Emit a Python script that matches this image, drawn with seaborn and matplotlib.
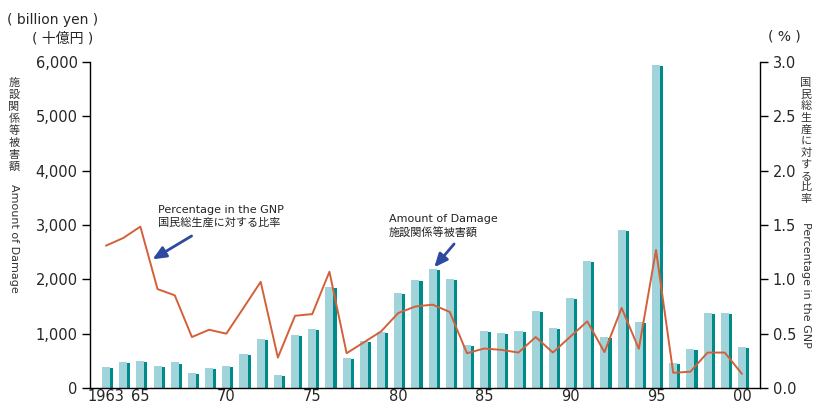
import numpy as np
import pandas as pd
import matplotlib
matplotlib.use("Agg")
import matplotlib.pyplot as plt
from matplotlib.patches import Rectangle
import seaborn as sns

# data
years = list(range(1963, 2001))
damage = [390, 480, 500, 400, 470, 276, 368, 399, 626, 902,
          233, 975, 1080, 1865, 546, 865, 1025, 1748, 1988, 2196,
          2006, 791, 1049, 1012, 1043, 1417, 1098, 1662, 2337, 945,
          2902, 1221, 5945, 466, 718, 1375, 1375, 749]
gnp_pct = [1.31, 1.38, 1.485, 0.91, 0.853, 0.469, 0.536, 0.50, 0.737, 0.977,
           0.28, 0.665, 0.68, 1.07, 0.32, 0.42, 0.52, 0.69, 0.75, 0.767,
           0.70, 0.32, 0.363, 0.351, 0.326, 0.469, 0.326, 0.47, 0.613, 0.33,
           0.737, 0.36, 1.27, 0.14, 0.15, 0.326, 0.326, 0.13]
xtick_years = [1963, 1965, 1970, 1975, 1980, 1985, 1990, 1995, 2000]
xtick_labels = ["1963", "65", "70", "75", "80", "85", "90", "95", "00"]
left_ticks = [0, 1000, 2000, 3000, 4000, 5000, 6000]
right_ticks = [0.0, 0.5, 1.0, 1.5, 2.0, 2.5, 3.0]

df = pd.DataFrame({"year": years, "damage": damage, "pct": gnp_pct})

LIGHT = "#a0d4da"
DARK = "#008b8b"
LINE = "#d4603a"
ARROW = "#2e4aa0"

sns.set_style("ticks")
plt.rcParams["font.family"] = ["DejaVu Sans", "Noto Sans CJK JP"]

W, H = 813, 403
fig = plt.figure(figsize=(W / 100, H / 100), dpi=100)
ax = fig.add_axes([90 / W, 1 - 388 / H, 670 / W, 326 / H])

sns.barplot(data=df, x="year", y="damage", native_scale=True, width=0.47,
            color=LIGHT, saturation=1, edgecolor="none", ax=ax)
# dark side strip for the 3D look
for p in list(ax.patches):
    h = p.get_height()
    ax.add_patch(Rectangle((p.get_x() + p.get_width(), 0), 0.18, max(h - 20, 0),
                           facecolor=DARK, edgecolor="none", zorder=p.get_zorder()))

ax.set_xlim(1962.07, 2001.05)
ax.set_ylim(0, 6000)
ax.set_yticks(left_ticks)
ax.set_yticklabels([f"{v:,}" for v in left_ticks])
ax.set_xticks(xtick_years)
ax.set_xticklabels(xtick_labels)
ax.tick_params(axis="x", length=0, pad=1, labelsize=10.5)
ax.tick_params(axis="y", length=6, width=1, pad=3, labelsize=10.5, color="black")
ax.set_xlabel("")
ax.set_ylabel("")
for s in ["top", "right"]:
    ax.spines[s].set_visible(False)
for s in ["left", "bottom"]:
    ax.spines[s].set_color("black")
    ax.spines[s].set_linewidth(1)

ax2 = ax.twinx()
sns.lineplot(data=df, x="year", y="pct", color=LINE, linewidth=1.4, ax=ax2)
ax2.set_ylim(0, 3)
ax2.set_xlim(1962.07, 2001.05)
ax2.set_yticks(right_ticks)
ax2.set_yticklabels([f"{v:.1f}" for v in right_ticks])
ax2.tick_params(axis="y", length=6, width=1, pad=3, labelsize=10.5, color="black")
ax2.set_ylabel("")
ax2.spines["top"].set_visible(False)
ax2.spines["left"].set_visible(False)
ax2.spines["bottom"].set_visible(False)
ax2.spines["right"].set_color("black")
ax2.spines["right"].set_linewidth(1)

# annotations
ax.annotate("", xy=(1965.71, 2368), xytext=(1967.98, 2798),
            arrowprops=dict(arrowstyle="-|>,head_length=0.8,head_width=0.35",
                            color=ARROW, lw=2, shrinkA=0, shrinkB=0), zorder=5)
ax.text(1966.03, 3368, "Percentage in the GNP\n国民総生産に対する比率",
        fontsize=8, va="top", ha="left", color="#222222", linespacing=1.3)
ax.annotate("", xy=(1982.1, 2221), xytext=(1983.25, 2650),
            arrowprops=dict(arrowstyle="-|>,head_length=0.8,head_width=0.35",
                            color=ARROW, lw=2, shrinkA=0, shrinkB=0), zorder=5)
ax.text(1979.46, 3202, "Amount of Damage\n施設関係等被害額",
        fontsize=8, va="top", ha="left", color="#222222", linespacing=1.3)


def px(x, y):
    return x / W, 1 - y / H


# unit labels
fig.text(*px(7, 20), "( billion yen )", fontsize=10, ha="left", va="center")
fig.text(*px(32, 38), "( 十億円 )", fontsize=10, ha="left", va="center")
fig.text(*px(768, 37), "( % )", fontsize=10, ha="left", va="center")


def stacked(text, x, y0, pitch):
    for i, ch in enumerate(text):
        fig.text(*px(x, y0 + i * pitch), ch, fontsize=8, ha="center", va="center",
                 color="#333333")


stacked("施設関係等被害額", 14, 83, 12.0)
fig.text(*px(14, 238), "Amount of Damage", fontsize=8, rotation=-90,
         ha="center", va="center", color="#333333")
stacked("国民総生産に対する比率", 806, 83, 11.6)
fig.text(*px(806, 285), "Percentage in the GNP", fontsize=8, rotation=-90,
         ha="center", va="center", color="#333333")

fig.savefig("out.png", dpi=100)
